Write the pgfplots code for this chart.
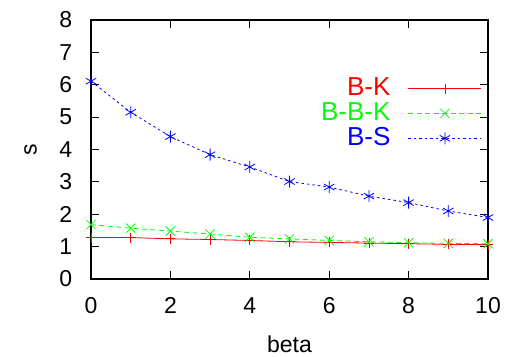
\documentclass[border=0pt]{standalone}
\usepackage{pgfplots}
\pgfplotsset{compat=1.18}
\usepackage{fontspec}
\setmainfont{Liberation Sans}
\begin{document}
\fontsize{23bp}{27bp}\selectfont
\begin{tikzpicture}
\begin{axis}[
  scale only axis,
  width=397bp, height=259bp,
  xmin=0, xmax=10, ymin=0, ymax=8,
  xtick={0,2,4,6,8,10}, ytick={0,1,2,3,4,5,6,7,8},
  tick align=inside, tick pos=both,
  major tick length=8bp,
  axis line style={line width=1.2bp},
  every tick/.style={black, line width=1bp},
  xlabel={beta}, ylabel={s},
  tick label style={font=\fontsize{23bp}{27bp}\selectfont},
  label style={font=\fontsize{23bp}{27bp}\selectfont},
  /pgf/number format/assume math mode=true,
  xticklabel style={yshift=-11bp},
  yticklabel style={xshift=-11bp},
  xlabel style={yshift=-6.5bp},
  ylabel style={yshift=7bp},
  legend style={draw=none, fill=none, at={(0.985,0.785)}, anchor=north east,
    font=\fontsize{26bp}{28bp}\selectfont, row sep=-0.5bp, inner sep=0pt},
  legend cell align=right,
  legend plot pos=right,
]
\addplot[color=red, line width=0.8bp, mark=+, mark size=5bp, mark options={solid,color=red},
  legend image code/.code={\path[draw=none,fill=none] (0bp,0bp) -- (16bp,0bp); \draw[red, line width=0.8bp] (16bp,0bp) -- (89bp,0bp); \draw[red, line width=0.8bp] plot[mark=+, mark size=5bp] coordinates {(52.5bp,0bp)};}] coordinates {
(0,1.28) (1,1.28) (2,1.24) (3,1.22) (4,1.19) (5,1.15) (6,1.13) (7,1.11) (8,1.09) (9,1.07) (10,1.06)};
\addlegendentry[text=red]{B-K}
\addplot[color=green, line width=0.8bp, dash pattern=on 5bp off 3.5bp, mark=x, mark size=6.5bp, mark options={solid,color=green},
  legend image code/.code={\path[draw=none,fill=none] (0bp,0bp) -- (16bp,0bp); \draw[green, line width=0.8bp, dash pattern=on 5bp off 3.5bp] (16bp,0bp) -- (89bp,0bp); \draw[green, line width=0.8bp] plot[mark=x, mark size=6.5bp] coordinates {(52.5bp,0bp)};}] coordinates {
(0,1.68) (1,1.57) (2,1.48) (3,1.39) (4,1.29) (5,1.24) (6,1.19) (7,1.15) (8,1.12) (9,1.10) (10,1.09)};
\addlegendentry[text=green]{B-B-K}
\addplot[color=blue, line width=0.8bp, dash pattern=on 2.5bp off 3bp, mark=asterisk, mark size=6bp, mark options={solid,color=blue},
  legend image code/.code={\path[draw=none,fill=none] (0bp,0bp) -- (16bp,0bp); \draw[blue, line width=0.8bp, dash pattern=on 2.5bp off 3bp] (16bp,0bp) -- (89bp,0bp); \draw[blue, line width=0.8bp] plot[mark=asterisk, mark size=6bp] coordinates {(52.5bp,0bp)};}] coordinates {
(0,6.11) (1,5.15) (2,4.40) (3,3.84) (4,3.46) (5,3.01) (6,2.84) (7,2.56) (8,2.36) (9,2.10) (10,1.90)};
\addlegendentry[text=blue]{B-S}
\end{axis}
\pgfresetboundingbox
\path[use as bounding box] (-91bp,-78bp) rectangle (416bp,279bp);
\end{tikzpicture}
\end{document}
